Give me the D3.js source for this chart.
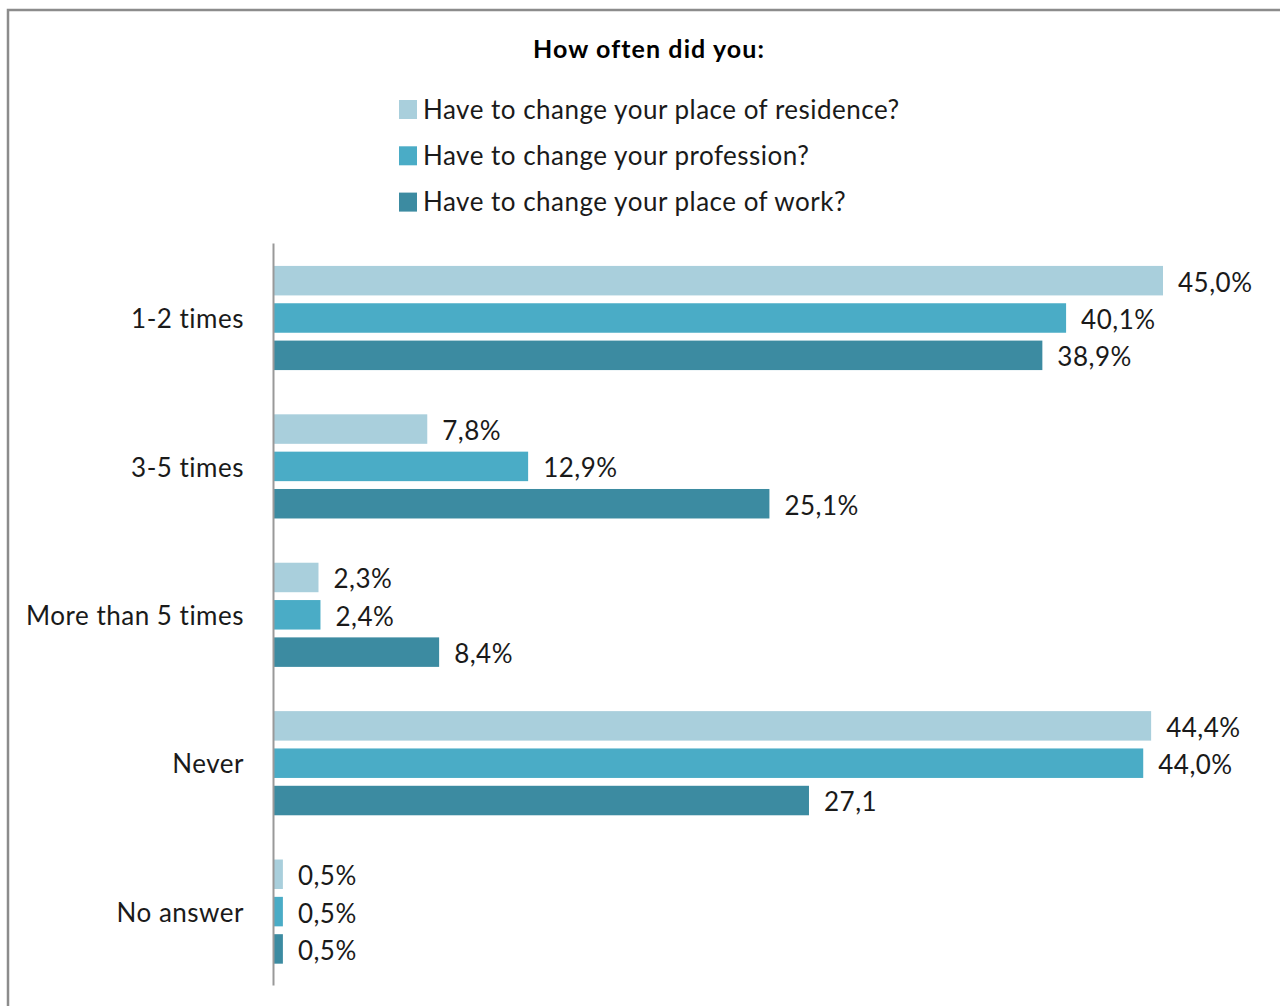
<!DOCTYPE html>
<html>
<head>
<meta charset="utf-8">
<script src="https://cdn.jsdelivr.net/npm/d3@7"></script>
<style>
  body { margin: 0; background: #fff; }
  svg { display: block; font-family: Lato, "Open Sans", sans-serif; }
</style>
</head>
<body>
<svg id="chart"></svg>
<script>
const categories = ['1-2 times', '3-5 times', 'More than 5 times', 'Never', 'No answer']
const seriesNames = [
    'Have to change your place of residence?',
    'Have to change your profession?',
    'Have to change your place of work?'
]
const residence = [45.0, 7.8, 2.3, 44.4, 0.5]
const profession = [40.1, 12.9, 2.4, 44.0, 0.5]
const work = [38.9, 25.1, 8.4, 27.1, 0.5]
const residenceLabels = ['45,0%', '7,8%', '2,3%', '44,4%', '0,5%']
const professionLabels = ['40,1%', '12,9%', '2,4%', '44,0%', '0,5%']
const workLabels = ['38,9%', '25,1%', '8,4%', '27,1', '0,5%']
const colors = ['#a9cfdc', '#4aacc6', '#3c8ba1']

const width = 1280, height = 1006
const svg = d3.select('#chart').attr('width', width).attr('height', height)

// outer frame (runs off the right/bottom edge like the source)
svg.append('rect')
    .attr('x', 8).attr('y', 10)
    .attr('width', width + 10).attr('height', height + 10)
    .attr('fill', 'none').attr('stroke', '#8c8c8c').attr('stroke-width', 2.5)

// title
svg.append('text')
    .attr('x', 649).attr('y', 58)
    .attr('text-anchor', 'middle')
    .style('font-size', '25px').style('font-weight', 'bold').style('fill', '#000')
    .style('letter-spacing', '1.1px')
    .text('How often did you:')

// legend
const legend = svg.append('g').attr('transform', 'translate(399, 100)')
seriesNames.forEach((name, i) => {
    const row = legend.append('g').attr('transform', `translate(0, ${i * 46.3})`)
    row.append('rect').attr('width', 18).attr('height', 19).attr('fill', colors[i])
    row.append('text')
        .attr('x', 24).attr('y', 9).attr('dy', '0.38em')
        .style('font-size', '26px').style('fill', '#1a1a1a')
        .style('letter-spacing', '0.5px')
        .text(name)
})

const margin = {left: 273, top: 243, bottom: 985}
const xScale = d3.scaleLinear().domain([0, 45]).range([margin.left, margin.left + 890])
const yScale = d3.scaleBand().domain(categories).range([margin.top, margin.bottom])
// three bars per category, ~29.5px tall on a 37.3px step
const inner = d3.scaleBand().domain([0, 1, 2]).range([19, 131])
    .paddingInner(0.21).paddingOuter(0.105)

const series = [
    {values: residence, labels: residenceLabels},
    {values: profession, labels: professionLabels},
    {values: work, labels: workLabels}
]

const groups = svg.selectAll('.grp')
    .data(categories)
    .join('g')
    .attr('class', 'grp')
    .attr('transform', d => `translate(0, ${yScale(d)})`)

groups.each(function(cat, ci) {
    const g = d3.select(this)
    series.forEach((s, si) => {
        g.append('rect')
            .attr('x', xScale(0))
            .attr('y', inner(si))
            .attr('width', xScale(s.values[ci]) - xScale(0))
            .attr('height', inner.bandwidth())
            .attr('fill', colors[si])
        g.append('text')
            .attr('x', xScale(s.values[ci]) + 15)
            .attr('y', inner(si) + inner.bandwidth() / 2)
            .attr('dy', '0.42em')
            .style('font-size', '26px').style('fill', '#1a1a1a')
            .style('letter-spacing', '0.5px')
            .text(s.labels[ci])
    })
})

// category axis
const yAxis = svg.append('g')
    .attr('transform', `translate(${margin.left}, 0)`)
    .call(d3.axisLeft(yScale).tickSize(0).tickPadding(29))
yAxis.select('.domain').attr('stroke', '#999').attr('stroke-width', 2)
yAxis.selectAll('text')
    .attr('dy', '0.42em')
    .style('font-size', '26px').style('fill', '#1a1a1a')
    .style('letter-spacing', '0.5px')
    .style('font-family', 'Lato, "Open Sans", sans-serif')
</script>
</body>
</html>
